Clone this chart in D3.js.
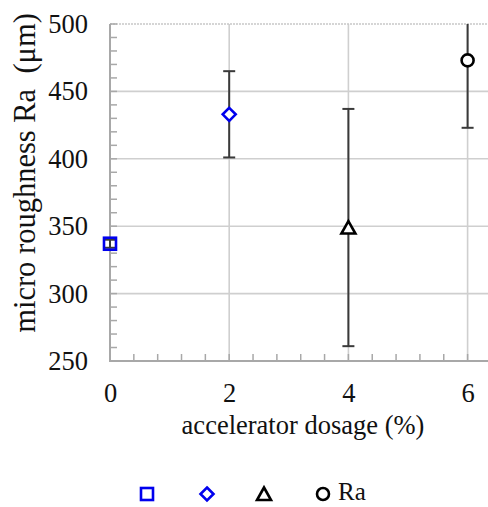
<!DOCTYPE html>
<html><head><meta charset="utf-8">
<script src="https://cdn.jsdelivr.net/npm/d3@7"></script>
<style>body{margin:0;background:#fff}svg{display:block}</style>
</head><body>
<script>
// Data
const seriesNames = ["", "", "", "Ra"];
const seriesShapes = ["square", "diamond", "triangle", "circle"];
const seriesColors = ["#0000ee", "#0000ee", "#000000", "#000000"];
const dosage = [0, 2, 4, 6];
const roughness = [337, 433, 349, 473];
const errorPlusMinus = [3, 32, 88, 50];
const xTicks = [0, 2, 4, 6];
const yTicks = [250, 300, 350, 400, 450, 500];

(function () {
const W = 488, H = 507;
const svg = d3.select("body").append("svg").attr("width", W).attr("height", H);
const font = "'Liberation Serif','Times New Roman',serif";

const x = d3.scaleLinear().domain([0, 7]).range([110, 110 + 7 * 59.6]);
const y = d3.scaleLinear().domain([250, 500]).range([361, 24]);
const pL = x(0), pR = W, pT = y(500), pB = y(250);

svg.append("defs").append("clipPath").attr("id", "plot")
  .append("rect").attr("x", pL - 10).attr("y", pT).attr("width", pR - pL + 10).attr("height", pB - pT);

const g = svg.append("g");
g.selectAll("line.hg").data(yTicks.filter(d => d > 250 && d < 500)).join("line")
  .attr("x1", pL).attr("x2", pR).attr("y1", d => y(d)).attr("y2", d => y(d))
  .attr("stroke", "#cfcfcf").attr("stroke-width", 1.6);
g.selectAll("line.vg").data(xTicks.filter(d => d > 0)).join("line")
  .attr("x1", d => x(d)).attr("x2", d => x(d)).attr("y1", pT).attr("y2", pB)
  .attr("stroke", "#cfcfcf").attr("stroke-width", 1.6);
g.append("line").attr("x1", pL).attr("x2", pR).attr("y1", pT).attr("y2", pT)
  .attr("stroke", "#c8c8c8").attr("stroke-width", 1.6).attr("stroke-dasharray", "2,1");

const yAxis = d3.axisLeft(y).tickValues(yTicks).tickSize(0).tickPadding(22).tickFormat(d3.format("d"));
const ya = svg.append("g").attr("transform", `translate(${pL},0)`).call(yAxis);
ya.select(".domain").remove();
ya.selectAll("text").attr("font-family", font).attr("font-size", 26.5).attr("fill", "#111");

const xAxis = d3.axisBottom(x).tickValues(xTicks).tickSize(0).tickPadding(22).tickFormat(d3.format("d"));
const xa = svg.append("g").attr("transform", `translate(0,${pB})`).call(xAxis);
xa.select(".domain").remove();
xa.selectAll("text").attr("font-family", font).attr("font-size", 26.5).attr("fill", "#111");

const yMinor = d3.range(250, 500.1, 10);
svg.append("g").selectAll("line").data(yMinor).join("line")
  .attr("x1", pL).attr("x2", pL + 7).attr("y1", d => y(d)).attr("y2", d => y(d))
  .attr("stroke", "#a8a8a8").attr("stroke-width", 1.5);
const xMinor = d3.range(0, 7.01, 0.4);
svg.append("g").selectAll("line").data(xMinor.filter(d => x(d) < W)).join("line")
  .attr("x1", d => x(d)).attr("x2", d => x(d)).attr("y1", pB).attr("y2", pB - 7)
  .attr("stroke", "#a8a8a8").attr("stroke-width", 1.5);

svg.append("line").attr("x1", pL).attr("x2", pL).attr("y1", pT).attr("y2", pB + 1)
  .attr("stroke", "#a8a8a8").attr("stroke-width", 2);
svg.append("line").attr("x1", pL - 1).attr("x2", pR).attr("y1", pB).attr("y2", pB)
  .attr("stroke", "#a8a8a8").attr("stroke-width", 2);

const eb = svg.append("g").attr("clip-path", "url(#plot)");
dosage.forEach((d, i) => {
  const cx = x(d), lo = y(roughness[i] - errorPlusMinus[i]), hi = y(roughness[i] + errorPlusMinus[i]);
  eb.append("line").attr("x1", cx).attr("x2", cx).attr("y1", lo).attr("y2", hi)
    .attr("stroke", "#3a3a3a").attr("stroke-width", 2);
  [lo, hi].forEach(v => eb.append("line").attr("x1", cx - 6).attr("x2", cx + 6).attr("y1", v).attr("y2", v)
    .attr("stroke", "#3a3a3a").attr("stroke-width", 2));
});

function drawMarker(sel, shape, cx, cy, color) {
  let el;
  if (shape === "square") el = sel.append("rect").attr("x", cx - 6).attr("y", cy - 6).attr("width", 12).attr("height", 12);
  else if (shape === "diamond") el = sel.append("path").attr("d", `M${cx},${cy - 6.5}L${cx + 6.5},${cy}L${cx},${cy + 6.5}L${cx - 6.5},${cy}Z`);
  else if (shape === "triangle") el = sel.append("path").attr("d", `M${cx},${cy - 6.5}L${cx + 7},${cy + 6}L${cx - 7},${cy + 6}Z`);
  else el = sel.append("circle").attr("cx", cx).attr("cy", cy).attr("r", 6);
  el.attr("fill", "none").attr("stroke", color).attr("stroke-width", 2.6);
  if (shape !== "square") el.attr("fill", "#fff");
}

const mk = svg.append("g");
dosage.forEach((d, i) => drawMarker(mk, seriesShapes[i], x(d), y(roughness[i]), seriesColors[i]));

svg.append("text").attr("x", 303).attr("y", 434).attr("text-anchor", "middle")
  .attr("font-family", font).attr("font-size", 26.5).attr("fill", "#111")
  .text("accelerator dosage (%)");
svg.append("text").attr("transform", "translate(35,173) rotate(-90)").attr("text-anchor", "middle")
  .attr("font-family", font).attr("font-size", 30.5).attr("fill", "#111")
  .text("micro roughness Ra\u00a0 (\u03bcm)");

const legendX = [147, 207, 264, 323];
const lg = svg.append("g");
seriesShapes.forEach((s, i) => {
  drawMarker(lg, s, legendX[i], 494, seriesColors[i]);
  if (seriesNames[i]) lg.append("text").attr("x", legendX[i] + 15).attr("y", 500)
    .attr("font-family", font).attr("font-size", 25).attr("fill", "#111").text(seriesNames[i]);
});
})();
</script>
</body></html>
